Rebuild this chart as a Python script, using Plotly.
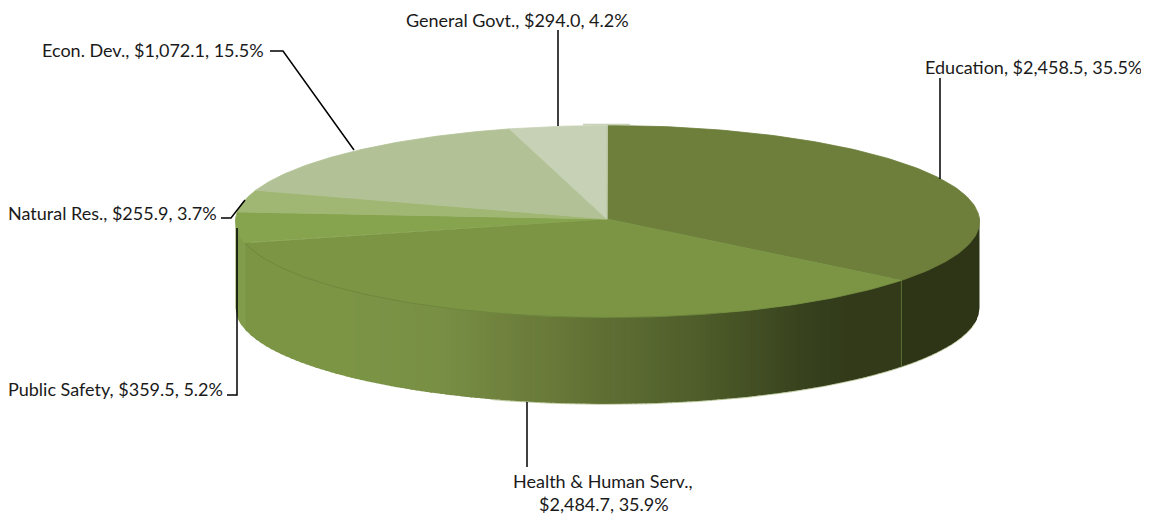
import numpy as np
import plotly.graph_objects as go

categories = ["Education", "Health & Human Serv.", "Public Safety", "Natural Res.", "Econ. Dev.", "General Govt."]
amounts = [2458.5, 2484.7, 359.5, 255.9, 1072.1, 294.0]
percents = [35.5, 35.9, 5.2, 3.7, 15.5, 4.2]
top_colors = ["#6d7f3b", "#7b9545", "#86a34e", "#a0b773", "#b2c296", "#c7d1b5"]
label_breaks = [False, True, False, False, False, False]

# geometry (pixel space of the axes)
CX, CY, RX, RY, DEPTH = 607.5, 221.5, 372.0, 96.0, 86.5
AX, AY = 607.0, 219.0

# stops of the side shading, along x
grad_x = [236, 245, 246, 340, 440, 500, 560, 620, 680, 740, 800, 850, 902, 903, 980]
grad_c = [(129,157,75),(129,157,75),(123,149,69),(123,149,69),(120,143,68),(112,130,62),(103,120,56),(92,108,50),(82,97,44),(70,83,37),(56,66,30),(50,58,26),(50,58,26),(46,53,23),(46,53,23)]


def rim(t):
    return CX + RX * np.sin(t), CY - RY * np.cos(t)


def rim_y(x):
    return CY + RY * np.sqrt(np.clip(1 - ((x - CX) / RX) ** 2, 0, 1))


def side_color(x):
    return "rgb(%d,%d,%d)" % tuple(int(round(np.interp(x, grad_x, [c[i] for c in grad_c]))) for i in range(3))


fig = go.Figure()


def poly(xs, ys, color, width=0.8):
    fig.add_trace(go.Scatter(x=xs, y=ys, mode="lines", fill="toself", fillcolor=color,
                             line=dict(color=color, width=width),
                             hoverinfo="skip", showlegend=False))


def stroke(xs, ys, color, width):
    fig.add_trace(go.Scatter(x=xs, y=ys, mode="lines", line=dict(color=color, width=width),
                             hoverinfo="skip", showlegend=False))


shares = np.array(amounts) / sum(amounts)
edges = np.concatenate([[0], np.cumsum(shares)]) * 2 * np.pi

# side wall: thin vertical bands, each overlapping the next to hide seams
band_x = np.arange(CX - RX, CX + RX, 5.0)
for a in band_x:
    b = min(a + 6.5, CX + RX)
    x = np.linspace(a, b, 5)
    y = rim_y(x)
    xs = np.concatenate([x, x[::-1]])
    ys = np.concatenate([y - 6, (y + DEPTH)[::-1]])
    poly(xs.tolist(), ys.tolist(), side_color(a + 2.5), width=0)

# pale fringe along the wall's lower edge, on its darker part
t = np.linspace(np.pi * 0.55, np.pi * 1.1, 200)
x, y = rim(t)
stroke(x.tolist(), (y + DEPTH + 0.4).tolist(), "rgba(176,192,140,0.75)", 1)

# seams on the wall
sx, sy = rim(edges[1])
stroke([sx, sx], [sy, sy + DEPTH], "#5f7433", 1)

# top faces
for i, c in enumerate(top_colors):
    t = np.linspace(edges[i], edges[i + 1], 120)
    x, y = rim(t)
    poly([AX] + x.tolist() + [AX], [AY] + y.tolist() + [AY], c)

# soft rim on the Health slice, light seam beside Education, pale sliver on top
t = np.linspace(edges[1] + 0.6, edges[2], 80)
x, y = rim(t)
stroke(x.tolist(), y.tolist(), "rgba(90,110,50,0.35)", 1)
stroke([AX, AX], [AY, CY - RY + 1], "#b9c6a0", 1)
stroke([583, 630], [124.5, 124.5], "#c7d1b5", 1.5)

# leader lines
leaders = [
    ([940, 940], [78, 179]),
    ([527, 527], [402, 467]),
    ([227, 237, 237], [395, 395, 228]),
    ([221, 231, 245], [218, 218, 200]),
    ([270, 283, 354], [51, 51, 150]),
    ([558, 558], [30, 126]),
]
for lx, ly in leaders:
    stroke(lx, ly, "#000000", 1.5)


def lines_of(i):
    if label_breaks[i]:
        return [f"{categories[i]},", f"${amounts[i]:,.1f}, {percents[i]}%"]
    return [f"{categories[i]}, ${amounts[i]:,.1f}, {percents[i]}%"]


label_pos = [[(1033.5, 67)], [(603, 481), (604, 504)], [(115, 389)], [(112.5, 213)], [(152.5, 50)], [(517, 20)]]
for i, spots in enumerate(label_pos):
    for txt, (lx, ly) in zip(lines_of(i), spots):
        fig.add_annotation(x=lx, y=ly, text=txt, showarrow=False, xanchor="center", yanchor="middle",
                           font=dict(family="Lato, Carlito, sans-serif", size=18, color="#1a1a1a"))

# the page has an 8px body margin, so the plot area starts at page pixel (8, 8)
fig.update_xaxes(range=[8, 1149], visible=False, fixedrange=True)
fig.update_yaxes(range=[516, 8], visible=False, fixedrange=True)
fig.update_layout(width=1141, height=508, margin=dict(l=0, r=0, t=0, b=0),
                  paper_bgcolor="white", plot_bgcolor="white", showlegend=False)
fig.write_html("out.html", config=dict(displayModeBar=False))
